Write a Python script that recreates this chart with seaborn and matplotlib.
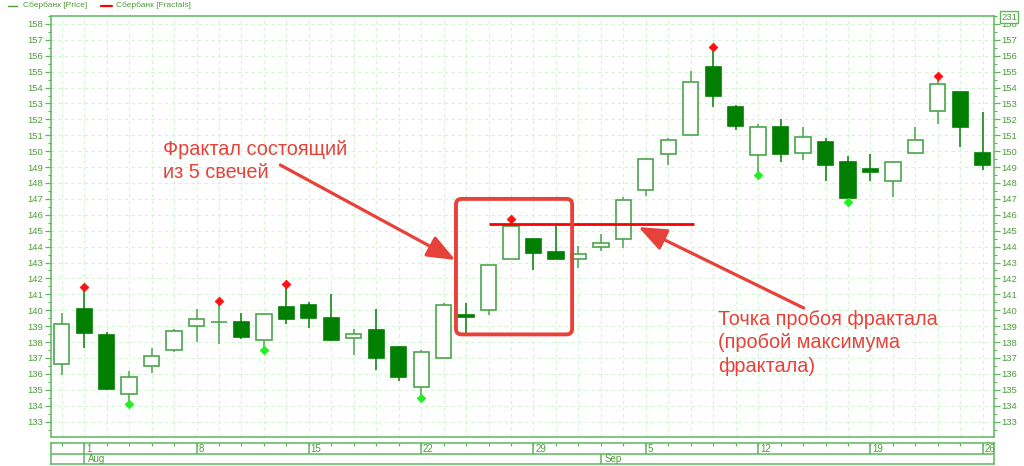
import numpy as np
import pandas as pd
import matplotlib
matplotlib.use("Agg")
import matplotlib.pyplot as plt
import seaborn as sns
from matplotlib.patches import FancyBboxPatch
from matplotlib.lines import Line2D
from matplotlib.ticker import MultipleLocator

# ---------------- data ----------------
dates = pd.bdate_range("2016-07-29", "2016-09-26")
open_ = [136.6, 140.05, 138.45, 134.75, 136.5, 137.5, 139.0, 139.25, 139.25, 138.15,
         140.2, 140.3, 139.5, 138.25, 138.75, 137.7, 135.15, 137.0, 139.7, 140.0,
         143.2, 144.5, 143.65, 143.2, 144.0, 144.5, 147.55, 149.85, 151.0, 155.3,
         152.75, 149.75, 151.55, 149.9, 150.55, 149.3, 148.85, 148.15, 149.9, 152.55,
         153.75, 149.9]
high = [139.8, 141.2, 138.6, 136.2, 137.6, 138.85, 140.1, 140.3, 139.8, 139.75,
        141.4, 140.5, 141.05, 138.8, 140.1, 137.75, 137.5, 140.45, 140.45, 142.85,
        145.5, 144.5, 145.3, 144.05, 144.8, 147.1, 149.6, 150.85, 155.05, 156.3,
        152.9, 151.7, 152.05, 151.55, 150.8, 149.7, 149.85, 149.4, 151.55, 154.5,
        153.75, 152.45]
low = [135.95, 137.6, 135.0, 134.3, 136.05, 137.35, 138.0, 137.9, 138.2, 137.7,
       139.15, 138.9, 138.05, 137.2, 136.25, 135.55, 134.7, 136.95, 138.5, 139.7,
       143.2, 142.55, 143.2, 142.65, 143.7, 143.9, 147.2, 149.15, 151.0, 152.75,
       151.35, 148.7, 149.3, 149.45, 148.15, 147.0, 148.15, 147.15, 149.8, 151.7,
       150.25, 148.8]
close = [139.15, 138.55, 135.05, 135.78, 137.15, 138.7, 139.45, 139.25, 138.3, 139.75,
         139.45, 139.5, 138.1, 138.5, 137.0, 135.8, 137.4, 140.35, 139.55, 142.85,
         145.3, 143.6, 143.25, 143.55, 144.25, 146.9, 149.5, 150.7, 154.35, 153.5,
         151.6, 151.5, 149.85, 150.9, 149.15, 147.05, 148.7, 149.3, 150.7, 154.2,
         151.55, 149.1]
fractal_up = [1, 7, 10, 20, 29, 39]
fractal_down = [3, 9, 16, 31, 35]
breakout_fractal = 20
breakout_span = [19.0, 28.15]
box_span_x = [17.55, 22.72]
box_span_y = [138.48, 147.0]

text1 = ["Фрактал состоящий", "из 5 свечей"]
text2 = ["Точка пробоя фрактала", "(пробой максимума", "фрактала)"]
legend_labels = ["Сбербанк [Price]", "Сбербанк [Fractals]"]
scale_label = "231"

# ---------------- style ----------------
sns.set_theme(style="white")
plt.rcParams['font.family'] = ['Liberation Sans', 'DejaVu Sans']

GREEN_TXT = "#4d9e3a"
SPINE = "#5cb85c"
DARK = "#007f00"
HOLLOW = "#4aa64a"
RED_ANN = "#e8413a"
GRID = "#d2f5d2"

W, H = 1024, 466
fig = plt.figure(figsize=(W / 100, H / 100), dpi=100)
fig.patch.set_facecolor("white")

left_px, right_px = 50.5, 994
top_px, bot_px = 15.5, 437
ax = fig.add_axes([left_px / W, (H - bot_px) / H, (right_px - left_px) / W, (bot_px - top_px) / H])

df = pd.DataFrame({"date": dates, "open": open_, "high": high, "low": low, "close": close})
df["idx"] = np.arange(len(df))
n = len(df)

ax.set_xlim(-0.5, n - 0.5)
ax.set_ylim(132.03, 158.53)

# grid
ax.set_xticks(np.arange(n))
ax.tick_params(axis="x", length=0, labelbottom=False)
ax.yaxis.set_major_locator(MultipleLocator(1))
ax.yaxis.set_minor_locator(MultipleLocator(0.5))
ax.grid(True, which="major", color=GRID, linestyle=(0, (3, 3)), linewidth=0.8)
ax.set_axisbelow(True)
ax.tick_params(axis="y", which="major", length=4, width=0.9, color=SPINE,
               labelsize=6.8, labelcolor=GREEN_TXT, left=True, right=True,
               labelleft=True, labelright=True, pad=1.5)
ax.tick_params(axis="y", which="minor", length=2, width=0.8, color=SPINE, left=True, right=True)
ax.set_yticks(np.arange(133, 159))
for s in ax.spines.values():
    s.set_color(SPINE)
    s.set_linewidth(1.1)

# candles
body_w = 0.68
up = df["close"] >= df["open"]
for is_up, sub in df.groupby(up):
    col = HOLLOW if is_up else DARK
    ax.vlines(sub["idx"], sub["low"], sub["high"], color=col, linewidth=1.1, zorder=2)
    bottoms = np.minimum(sub["open"], sub["close"])
    heights = np.abs(sub["close"] - sub["open"])
    ax.bar(sub["idx"], heights, bottom=bottoms, width=body_w,
           facecolor="white" if is_up else DARK, edgecolor=col,
           linewidth=1.2, zorder=3)

# fractal markers
fu = df.loc[fractal_up]
fd = df.loc[fractal_down]
sns.scatterplot(x=fu["idx"], y=fu["high"] + 0.25, marker="D", s=20, color="#ff1010",
                edgecolor="#ff1010", linewidth=0.5, zorder=4, ax=ax, legend=False)
sns.scatterplot(x=fd["idx"], y=fd["low"] - 0.22, marker="D", s=20, color="#22ee22",
                edgecolor="#22ee22", linewidth=0.5, zorder=4, ax=ax, legend=False)
ax.set_xlabel("")
ax.set_ylabel("")

# breakout line
lvl = df.loc[breakout_fractal, "high"]
ax.hlines(lvl - 0.05, breakout_span[0], breakout_span[1], color="#ff0000", linewidth=2.0, zorder=5)

# rounded box
box = FancyBboxPatch((box_span_x[0], box_span_y[0]), box_span_x[1] - box_span_x[0],
                     box_span_y[1] - box_span_y[0],
                     boxstyle="round,pad=0,rounding_size=0.25", mutation_aspect=1.41,
                     facecolor="none", edgecolor=RED_ANN, linewidth=2.8, zorder=6)
ax.add_patch(box)

# annotations
arrow_style = dict(arrowstyle="-|>,head_length=0.95,head_width=0.38", color=RED_ANN,
                   lw=2.3, shrinkA=0, shrinkB=0, mutation_scale=18)
ax.annotate("", xy=(17.52, 143.16), xytext=(9.73, 149.13), arrowprops=arrow_style, zorder=7)
ax.annotate("", xy=(25.67, 145.23), xytext=(33.03, 140.14), arrowprops=arrow_style, zorder=7)
for t, yv in zip(text1, [149.76, 148.31]):
    ax.text(4.52, yv, t, color=RED_ANN, fontsize=14.3, va="baseline", ha="left", zorder=7)
for t, yv in zip(text2, [139.07, 137.6, 136.13]):
    ax.text(29.2, yv, t, color=RED_ANN, fontsize=14.3, va="baseline", ha="left", zorder=7)

# ---------------- date panel ----------------
ax2 = fig.add_axes([left_px / W, (H - 464.3) / H, (right_px - left_px) / W, (464.3 - 442.7) / H])
ax2.set_xlim(-0.5, n - 0.5)
ax2.set_ylim(0, 2)
ax2.set_xticks([])
ax2.set_yticks([])
ax2.set_facecolor("white")
for s in ax2.spines.values():
    s.set_color(SPINE)
    s.set_linewidth(1.1)
ax2.axhline(1, color=SPINE, linewidth=1.1)
ax2.vlines(df["idx"], 1.72, 2, color=SPINE, linewidth=0.9)
mondays = df[df["date"].dt.weekday == 0]
ax2.vlines(mondays["idx"], 1, 2, color=SPINE, linewidth=1.1)
for _, r in mondays.iterrows():
    ax2.text(r["idx"] + 0.08, 1.45, str(r["date"].day), color=GREEN_TXT, fontsize=7,
             va="center", ha="left")
month_first = df[df["date"].dt.month != df["date"].dt.month.shift(1)].iloc[1:]
ax2.vlines(month_first["idx"], 0, 1, color=SPINE, linewidth=1.1)
for _, r in month_first.iterrows():
    ax2.text(r["idx"] + 0.15, 0.45, r["date"].strftime("%b"), color=GREEN_TXT, fontsize=7,
             va="center", ha="left")

# ---------------- legend ----------------
ly = 1 - 5.5 / H
fig.add_artist(Line2D([8 / W, 17 / W], [ly, ly], color=GREEN_TXT, linewidth=1.0))
fig.text(23 / W, ly, legend_labels[0], color=GREEN_TXT, fontsize=6.0, va="center", ha="left")
fig.add_artist(Line2D([101 / W, 112 / W], [ly, ly], color="#ff0000", linewidth=1.6))
fig.text(116 / W, ly, legend_labels[1], color=GREEN_TXT, fontsize=6.0, va="center", ha="left")

fig.text(1009 / W, 1 - 17 / H, scale_label, color=GREEN_TXT, fontsize=6.8, va="center", ha="center",
         bbox=dict(boxstyle="square,pad=0.15", facecolor="white", edgecolor=SPINE, linewidth=1.0))

fig.savefig("out.png", dpi=100)
